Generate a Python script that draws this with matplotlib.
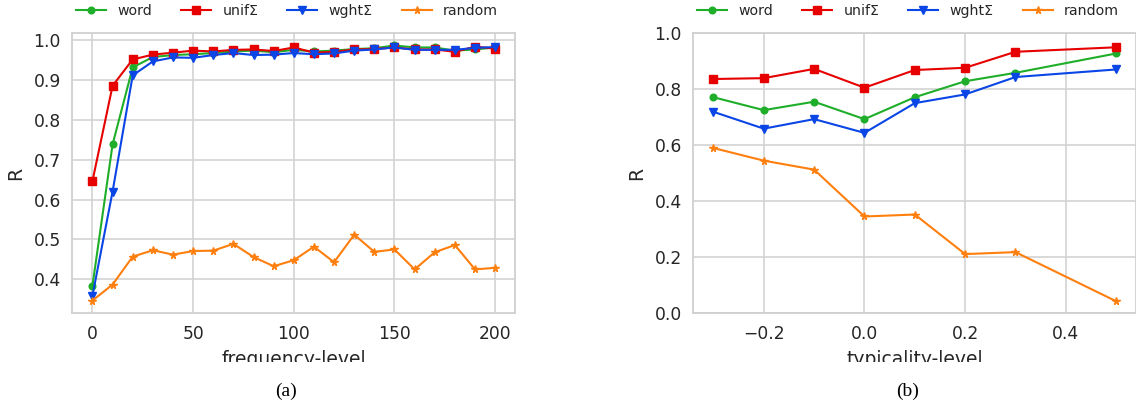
import matplotlib
matplotlib.use("Agg")
import matplotlib.pyplot as plt
from matplotlib.patches import Rectangle

# ---------------- data ----------------
freq_levels = [0, 10, 20, 30, 40, 50, 60, 70, 80, 90, 100,
               110, 120, 130, 140, 150, 160, 170, 180, 190, 200]
freq_word = [0.384, 0.738, 0.931, 0.957, 0.962, 0.964, 0.967, 0.971, 0.973, 0.969, 0.975,
             0.971, 0.973, 0.977, 0.979, 0.986, 0.981, 0.981, 0.973, 0.976, 0.981]
freq_unif = [0.646, 0.885, 0.951, 0.963, 0.968, 0.973, 0.971, 0.975, 0.976, 0.972, 0.981,
             0.968, 0.970, 0.976, 0.977, 0.981, 0.976, 0.976, 0.970, 0.983, 0.978]
freq_wght = [0.359, 0.620, 0.911, 0.946, 0.956, 0.955, 0.962, 0.967, 0.962, 0.963, 0.967,
             0.964, 0.966, 0.973, 0.976, 0.981, 0.975, 0.975, 0.975, 0.980, 0.982]
freq_random = [0.347, 0.387, 0.457, 0.473, 0.462, 0.471, 0.472, 0.489, 0.456, 0.433, 0.448,
               0.482, 0.443, 0.512, 0.469, 0.475, 0.425, 0.468, 0.486, 0.425, 0.429]

typ_levels = [-0.3, -0.2, -0.1, 0.0, 0.1, 0.2, 0.3, 0.5]
typ_word = [0.770, 0.724, 0.754, 0.692, 0.770, 0.827, 0.857, 0.926]
typ_unif = [0.835, 0.838, 0.871, 0.804, 0.867, 0.875, 0.932, 0.948]
typ_wght = [0.718, 0.658, 0.692, 0.643, 0.749, 0.780, 0.842, 0.869]
typ_random = [0.589, 0.544, 0.512, 0.345, 0.352, 0.211, 0.218, 0.043]

series_labels = ["word", "unif\u03a3", "wght\u03a3", "random"]
x_labels = ["frequency-level", "typicality-level"]
captions = ["(a)", "(b)"]

# ---------------- style ----------------
colors = ["#1fae2a", "#e60000", "#0a45e6", "#ff7f0e"]
markers = ["o", "s", "v", "*"]
marker_sizes = [4.8, 5.2, 5.4, 5.6]
text_color = "#262626"
grid_color = "#d0d0d0"

plt.rcParams["font.family"] = ["DejaVu Sans"]

W, H = 1136, 405
fig = plt.figure(figsize=(W / 100, H / 100), dpi=100)
fig.patch.set_facecolor("white")

ax_w = 443 / W
ax_h = 280.6 / H
ax_b = (H - 313.3) / H
ax1 = fig.add_axes([72.3 / W, ax_b, ax_w, ax_h])
ax2 = fig.add_axes([693.3 / W, ax_b, ax_w, ax_h])

datasets = [
    (ax1, freq_levels, [freq_word, freq_unif, freq_wght, freq_random]),
    (ax2, typ_levels, [typ_word, typ_unif, typ_wght, typ_random]),
]

for i, (ax, xs, ys_list) in enumerate(datasets):
    ax.set_facecolor("white")
    ax.set_axisbelow(True)
    ax.grid(True, color=grid_color, linewidth=1.1)
    for sp in ax.spines.values():
        sp.set_color(grid_color)
        sp.set_linewidth(1.3)
    for ys, c, m, ms, lab in zip(ys_list, colors, markers, marker_sizes, series_labels):
        ax.plot(xs, ys, color=c, marker=m, markersize=ms, linewidth=1.5,
                label=lab)
    ax.tick_params(axis="both", length=0, pad=8.2, labelsize=12.3,
                   labelcolor=text_color)
    ax.set_xlabel(x_labels[i], fontsize=13.5, color=text_color, labelpad=5)
    ax.set_ylabel("R", fontsize=13.5, color=text_color, labelpad=6)
    ax.legend(loc="center left", bbox_to_anchor=(-0.0045, 1.0763),
              ncol=4, frameon=False, fontsize=10.2, columnspacing=2.05,
              handlelength=2.1, handletextpad=0.82, borderaxespad=0,
              labelcolor=text_color)

ax2.set_ylim(0.0, 1.0)

# crop the bottom of the axis labels as in the reference
fig.patches.append(Rectangle((0, 0), 1, (H - 362) / H, transform=fig.transFigure,
                             facecolor="white", edgecolor="none", zorder=5))

fig.text(286 / W, 1 - 391 / H, captions[0], ha="center", va="center",
         fontsize=14, family=["Liberation Serif"], color="black", zorder=6)
fig.text(908 / W, 1 - 391 / H, captions[1], ha="center", va="center",
         fontsize=14, family=["Liberation Serif"], color="black", zorder=6)

fig.savefig("out.png", dpi=100)
